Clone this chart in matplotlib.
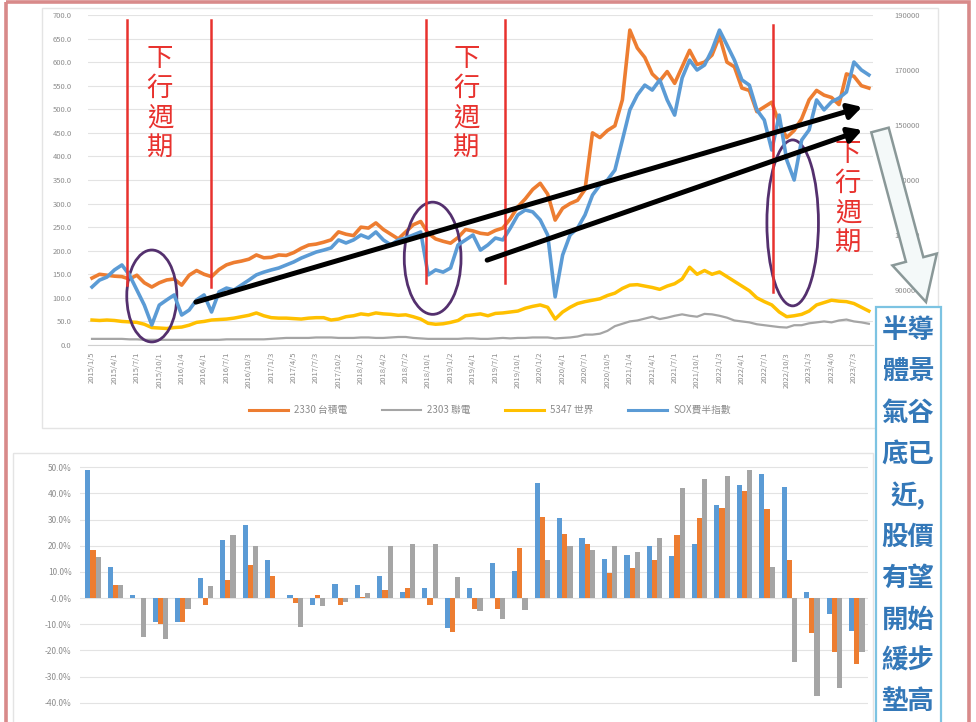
import numpy as np
import matplotlib
matplotlib.use("Agg")
import matplotlib.pyplot as plt
from matplotlib.patches import Ellipse, Rectangle, FancyArrow
from matplotlib.lines import Line2D

plt.rcParams['font.family'] = ['Noto Sans CJK TC', 'DejaVu Sans']

# ---- monthly closes, Jan 2015 .. Sep 2023 ----
tsmc = [142, 150, 148, 146, 145, 140, 148, 132, 123, 132, 138, 140,
        127, 148, 158, 150, 145, 160, 170, 175, 178, 182, 191, 185,
        186, 191, 190, 196, 205, 212, 214, 218, 223, 240, 235, 232,
        250, 248, 259, 245, 235, 225, 240, 255, 262, 237, 225, 220,
        216, 228, 245, 242, 237, 235, 243, 248, 268, 293, 310, 330,
        343, 320, 265, 290, 300, 307, 330, 450, 440, 455, 465, 520,
        668, 630, 610, 575, 560, 580, 555, 590, 625, 595, 600, 615,
        655, 600, 590, 545, 540, 495, 505, 515, 470, 440, 455, 480,
        520, 540, 530, 525, 510, 575, 570, 550, 545]
umc = [13, 13, 13, 13, 13, 12, 12, 11, 11, 11, 11, 11,
       11, 11, 11, 11, 11, 11, 12, 12, 12, 12, 12, 12,
       13, 14, 15, 15, 15, 15, 16, 16, 16, 15, 15, 15,
       16, 16, 15, 15, 16, 17, 17, 15, 14, 13, 13, 13,
       13, 13, 14, 14, 13, 13, 14, 15, 14, 15, 15, 16,
       16, 16, 14, 15, 16, 18, 22, 22, 24, 30, 40, 45,
       50, 52, 56, 60, 55, 58, 62, 65, 62, 60, 66, 65,
       62, 58, 52, 50, 48, 44, 42, 40, 38, 37, 42, 42,
       46, 48, 50, 48, 52, 54, 50, 48, 45]
vis = [53, 52, 53, 52, 50, 49, 48, 44, 37, 36, 35, 37,
       38, 42, 48, 50, 53, 54, 55, 57, 60, 63, 68, 62,
       58, 57, 57, 56, 55, 57, 58, 58, 53, 55, 60, 62,
       66, 64, 68, 66, 65, 63, 64, 60, 55, 46, 44, 45,
       48, 52, 62, 64, 66, 62, 67, 68, 70, 72, 78, 82,
       85, 80, 55, 70, 80, 88, 92, 95, 98, 105, 110, 120,
       127, 128, 125, 122, 118, 125, 130, 140, 165, 150, 158, 150,
       155, 145, 135, 125, 115, 100, 92, 85, 70, 60, 62, 65,
       72, 85, 90, 95, 93, 92, 88, 80, 72]
sox = [91100, 93600, 94700, 97300, 99100, 95500, 90000, 84500, 77300, 84500, 86400, 88200,
       80900, 82700, 86400, 88200, 82000, 89300, 90700, 90000, 91800, 93600, 95500, 96500,
       97300, 98000, 99100, 100200, 101600, 102700, 103800, 104500, 105300, 108200, 107100, 108200,
       110000, 108900, 111100, 108200, 106400, 108200, 108900, 110000, 111100, 95500, 97300, 96500,
       98000, 106400, 108200, 110000, 104500, 106400, 108900, 108200, 112500, 117300, 119100, 118400,
       115500, 110000, 87500, 102700, 110000, 112500, 117300, 124500, 128200, 130000, 133600, 144500,
       155500, 160900, 164500, 162700, 166400, 159100, 153600, 167100, 173600, 170000, 171800, 177300,
       184500, 179100, 173600, 166400, 164500, 155500, 151800, 140900, 153600, 137300, 130000, 144500,
       148200, 159100, 155500, 158400, 159800, 162000, 172900, 170000, 168200]

xtick_labels = ["2015/1/5", "2015/4/1", "2015/7/1", "2015/10/1", "2016/1/4", "2016/4/1",
                "2016/7/1", "2016/10/3", "2017/1/3", "2017/4/5", "2017/7/3", "2017/10/2",
                "2018/1/2", "2018/4/2", "2018/7/2", "2018/10/1", "2019/1/2", "2019/4/1",
                "2019/7/1", "2019/10/1", "2020/1/2", "2020/4/1", "2020/7/1", "2020/10/5",
                "2021/1/4", "2021/4/1", "2021/7/1", "2021/10/1", "2022/1/3", "2022/4/1",
                "2022/7/1", "2022/10/3", "2023/1/3", "2023/4/6", "2023/7/3"]
right_ticks = [90000, 110000, 130000, 150000, 170000, 190000]

series_names = ["2330 台積電", "2303 聯電", "5347 世界", "SOX費半指數"]

# ---- quarterly returns (%) ----
ret_blue = [49, 12, 1.3, -9, -9, 7.5, 22, 28, 14.5, 1, -2.5, 5.5, 5, 8.5, 2.5, 4, -11.5, 4,
            13.5, 10.5, 44, 30.5, 23, 15, 16.5, 20, 16, 20.5, 35.5, 43, 47.5, 42.5, 2.5, -6, -12.5]
ret_orange = [18.5, 5, 0, -10, -9, -2.5, 7, 12.5, 8.5, -2, 1, -2.5, 0.5, 3, 4, -2.5, -13, -4,
              -4, 19, 31, 24.5, 20.5, 9.5, 11.5, 14.5, 24, 30.5, 34.5, 41, 34, 14.5, -13.5, -20.5, -25]
ret_gray = [15.5, 5, -15, -15.5, -4, 4.5, 24, 20, 0, -11, -3, -1.5, 2, 20, 20.5, 20.5, 8, -5,
            -8, -4.5, 14.5, 20, 18.5, 20, 17.5, 23, 42, 45.5, 46.5, 49, 12, -24.5, -37.5, -34.5, -20.5]

C_ORANGE = '#ed7d31'
C_GRAY = '#a5a5a5'
C_YELLOW = '#ffc000'
C_BLUE = '#5b9bd5'
C_TEXT = '#8c8c8c'
C_GRID = '#e3e3e3'
C_RED = '#e8322e'

W, H = 976, 722
fig = plt.figure(figsize=(W / 100, H / 100), dpi=100)
fig.patch.set_facecolor('white')


def px_axes(left, top, right, bottom):
    return [left / W, 1 - bottom / H, (right - left) / W, (bottom - top) / H]


# ================= upper line chart =================
ax = fig.add_axes(px_axes(88.3, 15, 872.6, 345))
months = np.arange(len(tsmc))
ax.set_xlim(-0.5, 104.5)
ax.set_ylim(0, 700)
ax.set_yticks(np.arange(0, 701, 50))
ax.set_yticklabels([f"{v:.1f}" for v in np.arange(0, 701, 50)])
ax.set_xticks(np.arange(0, 105, 3))
ax.set_xticklabels(xtick_labels, rotation=90)
ax.tick_params(axis='both', length=0, labelsize=5.5, labelcolor=C_TEXT)
ax.tick_params(axis='y', pad=12)
ax.tick_params(axis='x', pad=5)
ax.grid(axis='y', color=C_GRID, lw=0.8)
ax.set_axisbelow(True)
for s in ['top', 'left', 'right']:
    ax.spines[s].set_visible(False)
ax.spines['bottom'].set_color('#d0d0d0')

ax.plot(months, umc, color=C_GRAY, lw=1.6, zorder=2)
ax.plot(months, vis, color=C_YELLOW, lw=2.5, zorder=2)
ax.plot(months, tsmc, color=C_ORANGE, lw=2.6, zorder=3)

ax2 = ax.twinx()
ax2.set_ylim(70000, 190000)
ax2.set_yticks(right_ticks)
ax2.tick_params(axis='y', length=0, labelsize=5.5, labelcolor=C_TEXT, pad=16)
for s in ax2.spines.values():
    s.set_visible(False)
ax2.plot(months, sox, color=C_BLUE, lw=2.6, zorder=4)

# downturn markers
red_lines = [(4.7, 127, 689), (15.9, 123, 689), (44.7, 131, 689), (55.3, 131, 689), (91.2, 112, 679)]
for xm, y0, y1 in red_lines:
    ax2.plot([xm, xm], [70000 + y0 / 700 * 120000, 70000 + y1 / 700 * 120000],
             color=C_RED, lw=1.8, zorder=6)

for xm, ytop in [(9.1, 636), (50.1, 636), (101.2, 435)]:
    ax2.text(xm, 70000 + ytop / 700 * 120000, "下\n行\n週\n期", color=C_RED, fontsize=19,
             ha='center', va='top', linespacing=1.12, zorder=7, clip_on=False)

# circled troughs
for cx, cy, w, h in [(8.0, 104, 6.7, 195), (45.6, 184, 7.6, 238), (93.8, 259, 6.9, 352)]:
    ax.add_patch(Ellipse((cx, cy), w, h, fill=False, ec='#54306e', lw=2.0, zorder=8, clip_on=False))

# trend arrows
for (x0, y0), (x1, y1) in [((13.9, 91), (103.1, 505)), ((52.9, 180), (103.1, 456))]:
    ax2.annotate("", xy=(x1, 70000 + y1 / 700 * 120000), xytext=(x0, 70000 + y0 / 700 * 120000),
                 arrowprops=dict(arrowstyle='-|>,head_length=0.8,head_width=0.45', color='black',
                                 lw=3.6, shrinkA=0, shrinkB=0), zorder=9, annotation_clip=False)

handles = [Line2D([], [], color=C_ORANGE, lw=2.2), Line2D([], [], color=C_GRAY, lw=1.5),
           Line2D([], [], color=C_YELLOW, lw=2.2), Line2D([], [], color=C_BLUE, lw=2.2)]
fig.legend(handles, series_names, loc='center', bbox_to_anchor=(490 / W, 1 - 410 / H), ncol=4,
           frameon=False, fontsize=7, handlelength=4.0, handletextpad=0.6,
           columnspacing=3.6, labelcolor=C_TEXT)

# ================= lower bar chart =================
bx = fig.add_axes(px_axes(80, 454, 868, 716))
q = np.arange(len(ret_blue))
bw = 0.23
bx.bar(q - bw, np.array(ret_blue) / 100, bw, color=C_BLUE, zorder=3)
bx.bar(q, np.array(ret_orange) / 100, bw, color=C_ORANGE, zorder=3)
bx.bar(q + bw, np.array(ret_gray) / 100, bw, color=C_GRAY, zorder=3)
bx.set_xlim(-0.58, 34.5)
bx.set_ylim(-0.45, 0.55)
bx.set_yticks(np.arange(-0.4, 0.51, 0.1))
bx.set_yticklabels([f"{v * 100:.1f}%" for v in np.arange(-0.4, 0.51, 0.1)])
bx.set_xticks([])
bx.tick_params(axis='y', length=0, labelsize=6, labelcolor=C_TEXT, pad=6)
bx.grid(axis='y', color=C_GRID, lw=0.8)
bx.set_axisbelow(True)
for s in bx.spines.values():
    s.set_visible(False)

# ================= overlay: frames, callout =================
ov = fig.add_axes([0, 0, 1, 1], zorder=20)
ov.set_xlim(0, W)
ov.set_ylim(H, 0)
ov.axis('off')
ov.patch.set_alpha(0)

ov.add_patch(Rectangle((42, 8), 896, 420, fill=False, ec='#e4e4e4', lw=1))
ov.add_patch(Rectangle((13, 453), 860, 290, fill=False, ec='#e4e4e4', lw=1))
ov.add_patch(FancyArrow(880, 130, 46, 172, width=18, head_width=46, head_length=44,
                        length_includes_head=True, fc='#f4f9f9', ec='#8a9898', lw=1.8))
ov.add_patch(Rectangle((876, 307), 65, 430, fc='white', ec='#7cc3e2', lw=1.6))
box_lines = ["半導", "體景", "氣谷", "底已", "近,", "股價", "有望", "開始", "緩步", "墊高"]
for i, t in enumerate(box_lines):
    ov.text(908, 331 + i * 41.3, t, color='#3478b8', fontsize=19, fontweight='bold',
            ha='center', va='center')
ov.add_patch(Rectangle((6, 2), 963, 740, fill=False, ec='#d88a8a', lw=2.6))

fig.savefig("out.png", dpi=100)
